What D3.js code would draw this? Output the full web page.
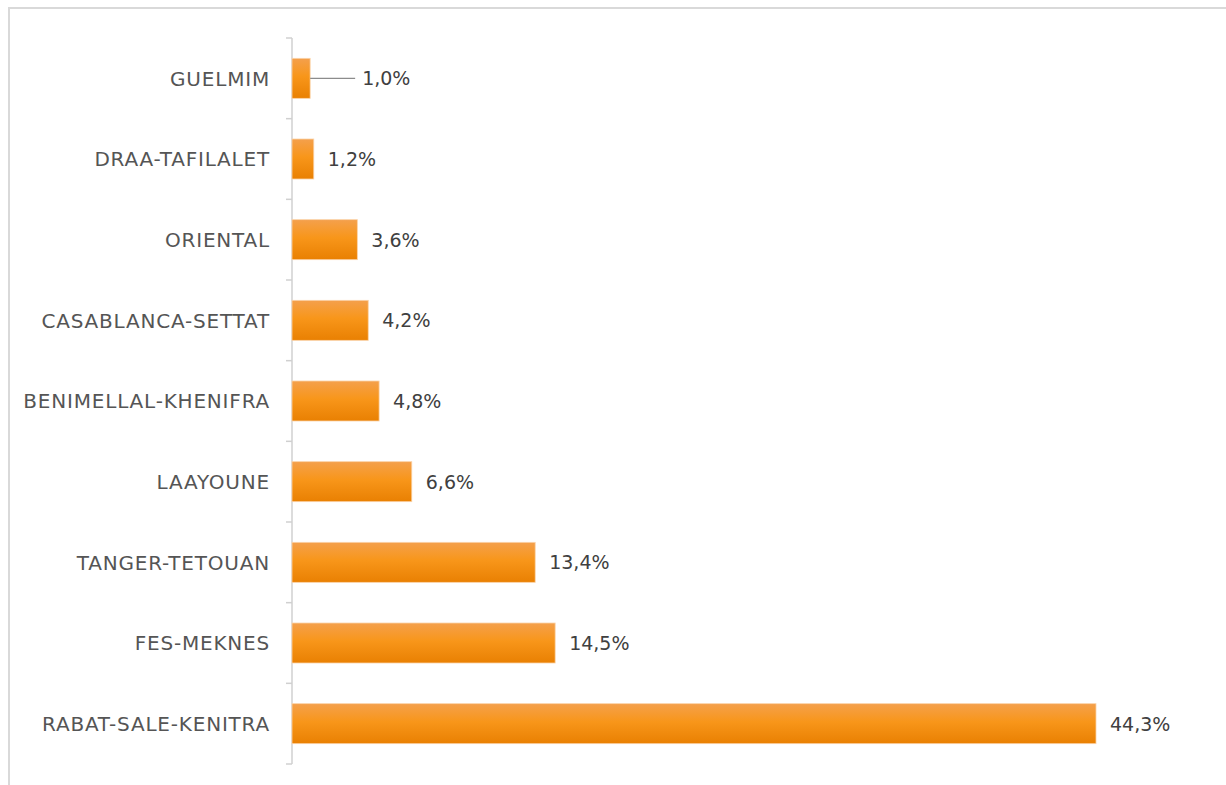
<!DOCTYPE html>
<html>
<head>
<meta charset="utf-8">
<script src="https://cdn.jsdelivr.net/npm/d3@7/dist/d3.min.js"></script>
<style>
  html, body { margin: 0; padding: 0; background: #fff; }
  svg { display: block; }
</style>
</head>
<body>
<svg id="chart" width="1226" height="785"></svg>
<script>
// Regions, top to bottom, and their share in percent
const regions = ["GUELMIM", "DRAA-TAFILALET", "ORIENTAL", "CASABLANCA-SETTAT",
  "BENIMELLAL-KHENIFRA", "LAAYOUNE", "TANGER-TETOUAN", "FES-MEKNES", "RABAT-SALE-KENITRA"];
const shares = [1.0, 1.2, 3.6, 4.2, 4.8, 6.6, 13.4, 14.5, 44.3];

const svg = d3.select("#chart");
const W = 1226, H = 785;
const margin = { top: 38, left: 292, bottom: 21 };

// Light frame along the top and left edge
svg.append("path")
  .attr("d", `M9,${H} L9,8 L${W},8`)
  .attr("fill", "none")
  .attr("stroke", "#d9d9d9")
  .attr("stroke-width", 2);

const x = d3.scaleLinear().domain([0, 44.3]).range([margin.left, 1096]);

// Bar fill gradient
const grad = svg.append("defs").append("linearGradient")
  .attr("id", "barGrad").attr("x1", 0).attr("y1", 0).attr("x2", 0).attr("y2", 1);
grad.append("stop").attr("offset", "0%").attr("stop-color", "#f4a04c");
grad.append("stop").attr("offset", "45%").attr("stop-color", "#f8961a");
grad.append("stop").attr("offset", "100%").attr("stop-color", "#e98002");

const font = "'DejaVu Sans', sans-serif";

// Band boundaries for the category axis (ticks sit between bars)
const yb = d3.scaleLinear().domain([0, regions.length]).range([margin.top, H - margin.bottom]);
const bounds = d3.range(regions.length + 1).map(i => yb(i));
const bandCenter = r => yb(regions.indexOf(r) + 0.5);
const barH = 40;

const axisG = svg.append("g");
axisG.append("line")
  .attr("x1", margin.left).attr("x2", margin.left)
  .attr("y1", bounds[0]).attr("y2", bounds[bounds.length - 1])
  .attr("stroke", "#d0d0d0").attr("stroke-width", 1.5);
axisG.selectAll("line.tick").data(bounds).join("line")
  .attr("class", "tick")
  .attr("x1", margin.left - 6).attr("x2", margin.left)
  .attr("y1", d => d).attr("y2", d => d)
  .attr("stroke", "#d0d0d0").attr("stroke-width", 1.5);

axisG.selectAll("text").data(regions).join("text")
  .attr("x", 270)
  .attr("y", d => bandCenter(d))
  .attr("dy", "0.36em")
  .attr("text-anchor", "end")
  .attr("font-family", font)
  .attr("font-size", 20)
  .attr("letter-spacing", 0.8)
  .attr("fill", "#555555")
  .text(d => d);

// Bars
svg.append("g").selectAll("rect").data(regions).join("rect")
  .attr("x", x(0))
  .attr("y", d => bandCenter(d) - barH / 2)
  .attr("width", (d, i) => x(shares[i]) - x(0))
  .attr("height", barH)
  .attr("fill", "url(#barGrad)")
  .attr("stroke", "#fbd3a8")
  .attr("stroke-width", 0.8);

// Value labels (first one is pushed out with a leader line)
const fmt = v => d3.format(".1f")(v).replace(".", ",") + "%";
const labels = svg.append("g");
regions.forEach((r, i) => {
  const cy = bandCenter(r);
  let lx = x(shares[i]) + 14;
  if (i === 0) {
    labels.append("line")
      .attr("x1", x(shares[i])).attr("x2", x(shares[i]) + 45)
      .attr("y1", cy).attr("y2", cy)
      .attr("stroke", "#8c8c8c").attr("stroke-width", 1.3);
    lx = x(shares[i]) + 52;
  }
  labels.append("text")
    .attr("x", lx)
    .attr("y", cy)
    .attr("dy", "0.36em")
    .attr("font-family", font)
    .attr("font-size", 19)
    .attr("fill", "#404040")
    .text(fmt(shares[i]));
});
</script>
</body>
</html>
